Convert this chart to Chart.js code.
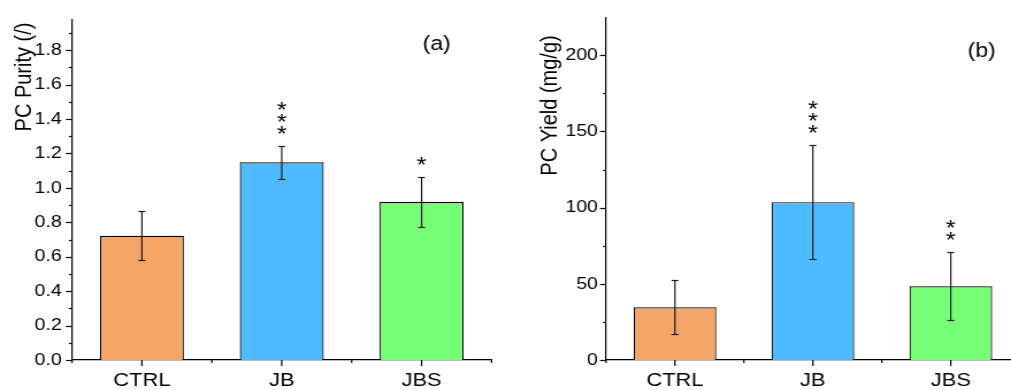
<!DOCTYPE html>
<html>
<head>
<meta charset="utf-8">
<script src="https://cdn.jsdelivr.net/npm/chart.js@4.4.0/dist/chart.umd.min.js"></script>
<style>
  html, body { margin: 0; padding: 0; background: #fff; overflow: hidden; }
  /* the figure is a little wider than tall in its lettering, so stretch it */
  .panel { position: absolute; top: 0; height: 390px; transform: scaleX(1.15); transform-origin: 0 0; }
  #left { left: 0; width: 439px; }
  #right { left: 505px; width: 452px; }
</style>
</head>
<body>
<div class="panel" id="left"><canvas id="purityChart"></canvas></div>
<div class="panel" id="right"><canvas id="yieldChart"></canvas></div>
<script>
// data
const categories = ["CTRL", "JB", "JBS"];
const barColors = ["#F3A667", "#4FBBFF", "#76FF76"];

const purityValues = [0.722, 1.149, 0.919];
const purityErrors = [0.143, 0.095, 0.147];
const purityStars = ["", "***", "*"];
const purityTicks = [0, 0.2, 0.4, 0.6, 0.8, 1.0, 1.2, 1.4, 1.6, 1.8];
const purityTickLabels = ["0.0", "0.2", "0.4", "0.6", "0.8", "1.0", "1.2", "1.4", "1.6", "1.8"];

const yieldValues = [34.6, 103.6, 48.4];
const yieldErrors = [17.8, 37.3, 22.4];
const yieldStars = ["", "***", "**"];
const yieldTicks = [0, 50, 100, 150, 200];
const yieldTickLabels = ["0", "50", "100", "150", "200"];

const FONT = "'Liberation Sans', Arial, sans-serif";

// ticks, error bars, asterisks and texts
const extras = {
  id: "extras",
  afterDraw(chart, args, opts) {
    const ctx = chart.ctx;
    const xs = chart.scales.x;
    const ys = chart.scales.y;
    const area = chart.chartArea;
    ctx.save();
    ctx.strokeStyle = "#000";
    ctx.lineWidth = 1.2;

    function seg(x1, y1, x2, y2) {
      ctx.beginPath();
      ctx.moveTo(x1, y1);
      ctx.lineTo(x2, y2);
      ctx.stroke();
    }

    // y ticks
    const majors = opts.ticks;
    majors.forEach(v => {
      const py = Math.round(ys.getPixelForValue(v)) + 0.5;
      seg(area.left - 5.2, py, area.left, py);
    });
    const step = majors[1] - majors[0];
    majors.forEach(v => {
      const m = v + step / 2;
      if (m < ys.max - 1e-9) {
        const py = Math.round(ys.getPixelForValue(m)) + 0.5;
        seg(area.left - 2.6, py, area.left, py);
      }
    });

    // x ticks
    categories.forEach((c, i) => {
      const px = xs.getPixelForValue(i);
      seg(px, area.bottom, px, area.bottom + 6);
    });
    for (let i = -0.5; i <= categories.length - 0.5; i += 1) {
      const px = xs.getPixelForValue(i);
      seg(px, area.bottom, px, area.bottom + 3);
    }

    // error bars + significance stars
    ctx.strokeStyle = "#1a1a1a";
    ctx.lineWidth = 1.2;
    ctx.fillStyle = "#000";
    ctx.font = "22px " + FONT;
    ctx.textAlign = "center";
    ctx.textBaseline = "middle";
    opts.values.forEach((v, i) => {
      const px = xs.getPixelForValue(i);
      const top = Math.round(ys.getPixelForValue(v + opts.errors[i])) + 0.5;
      const bot = Math.round(ys.getPixelForValue(v - opts.errors[i])) + 0.5;
      seg(px, top, px, bot);
      seg(px - 3, top, px + 3, top);
      seg(px - 3, bot, px + 3, bot);
      const n = opts.stars[i].length;
      for (let k = 0; k < n; k++) {
        ctx.fillText("*", px, top - 12 - k * 12);
      }
    });

    // axis title
    ctx.save();
    ctx.translate(opts.titleX, opts.titleY);
    ctx.rotate(-Math.PI / 2);
    ctx.font = "20px " + FONT;
    ctx.fillText(opts.title, 0, 0);
    ctx.restore();

    // panel label
    ctx.font = "20px " + FONT;
    ctx.fillText(opts.panel, opts.panelX, opts.panelY);
    ctx.restore();
  }
};

function makeChart(canvasId, values, errors, stars, ticks, tickLabels, yMax, axisWidth, padRight, tickPad, title, titleX, titleY, panel, panelX, panelY) {
  return new Chart(document.getElementById(canvasId), {
    type: "bar",
    data: {
      labels: categories,
      datasets: [{
        data: values,
        backgroundColor: barColors,
        borderColor: "#000",
        borderWidth: 1.2,
        barPercentage: 0.6,
        categoryPercentage: 1.0
      }]
    },
    options: {
      responsive: true,
      maintainAspectRatio: false,
      animation: false,
      layout: { padding: { top: 17, right: padRight, left: 0, bottom: 0 } },
      plugins: {
        legend: { display: false },
        tooltip: { enabled: false },
        extras: {
          values: values, errors: errors, stars: stars, ticks: ticks,
          title: title, titleX: titleX, titleY: titleY,
          panel: panel, panelX: panelX, panelY: panelY
        }
      },
      scales: {
        x: {
          offset: true,
          grid: { display: false, drawTicks: false },
          border: { display: true, color: "#000", width: 1.2 },
          ticks: { color: "#000", padding: 9, font: { family: FONT, size: 19 } },
          afterFit: (s) => { s.height = 30; }
        },
        y: {
          min: 0,
          max: yMax,
          grid: { display: false, drawTicks: false },
          border: { display: true, color: "#000", width: 1.2 },
          afterBuildTicks: (s) => { s.ticks = ticks.map(v => ({ value: v })); },
          ticks: {
            color: "#000",
            padding: tickPad,
            font: { family: FONT, size: 17 },
            callback: (v, i) => tickLabels[i]
          },
          afterFit: (s) => { s.width = axisWidth; }
        }
      }
    },
    plugins: [extras]
  });
}

makeChart("purityChart", purityValues, purityErrors, purityStars, purityTicks, purityTickLabels,
  1.98, 62.6, 11.6, 9, "PC Purity (/)", 21.7, 77, "(a)", 379.7, 44);
makeChart("yieldChart", yieldValues, yieldErrors, yieldStars, yieldTicks, yieldTickLabels,
  225, 87.8, 4.4, 7, "PC Yield (mg/g)", 39.1, 105.5, "(b)", 414.5, 51);
</script>
</body>
</html>
